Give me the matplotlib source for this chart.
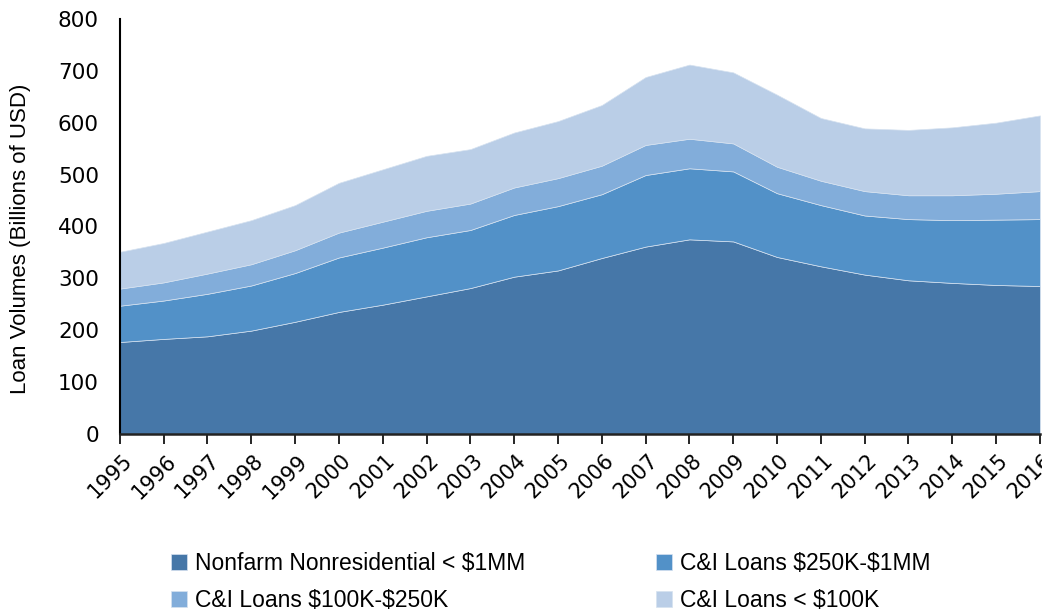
import matplotlib.pyplot as plt
import matplotlib.transforms as mtransforms

years = list(range(1995, 2017))

# loan volumes by size band, billions of USD
nonfarm = [177, 183, 188, 199, 216, 235, 249, 265, 281, 303, 315,
           339, 361, 375, 371, 341, 323, 307, 296, 291, 287, 285]
ci_250k_1mm = [70, 74, 82, 87, 94, 105, 110, 114, 112, 119, 124,
               123, 138, 137, 135, 123, 118, 114, 118, 121, 126, 129]
ci_100k_250k = [33, 35, 39, 41, 44, 48, 50, 51, 51, 53, 54,
                55, 58, 57, 54, 51, 47, 47, 46, 48, 50, 54]
ci_under_100k = [71, 76, 81, 85, 87, 96, 101, 106, 105, 106, 110,
                 117, 131, 143, 137, 139, 121, 121, 126, 131, 137, 146]

labels = ["Nonfarm Nonresidential < \\$1MM", "C&I Loans \\$250K-\\$1MM",
          "C&I Loans \\$100K-\\$250K", "C&I Loans < \\$100K"]
colors = ["#4677a8", "#5291c8", "#82adda", "#bacee7"]

plt.rcParams['font.family'] = ['DejaVu Sans']

fig = plt.figure(figsize=(10.42, 6.11), dpi=100)
ax = fig.add_axes([0.115, 0.29, 0.883, 0.679])

ax.stackplot(years, nonfarm, ci_250k_1mm, ci_100k_250k, ci_under_100k,
             labels=labels, colors=colors, edgecolor="#d6e2f0", linewidth=0.5)

ax.set_xlim(1995, 2016)
ax.set_ylim(0, 800)
ax.set_yticks(range(0, 801, 100))
ax.set_xticks(years)
ax.set_xticklabels([str(y) for y in years], rotation=45, ha="right",
                   rotation_mode="anchor", fontsize=15)
ax.tick_params(axis="y", length=0, labelsize=15.5, pad=15)
ax.tick_params(axis="x", length=7, width=1.2, direction="out", pad=5)

# nudge year labels a touch to the right, like the original
shift = mtransforms.ScaledTranslation(2 / 100, 0, fig.dpi_scale_trans)
for lab in ax.get_xticklabels():
    lab.set_transform(lab.get_transform() + shift)

ax.set_ylabel("Loan Volumes (Billions of USD)", fontsize=16,
              family=['Liberation Sans'])
ax.yaxis.set_label_coords(-0.097, 0.47)

for s in ["top", "right"]:
    ax.spines[s].set_visible(False)
ax.spines["left"].set_linewidth(1.5)
ax.spines["bottom"].set_linewidth(1.8)
ax.spines["bottom"].set_color("#222222")

handles, lbls = ax.get_legend_handles_labels()
# row order: first row holds nonfarm + 250K-1MM
order = [0, 2, 1, 3]
fig.legend([handles[i] for i in order], [lbls[i] for i in order],
           loc="lower left", bbox_to_anchor=(0.144, -0.035), ncol=2,
           frameon=False, handlelength=0.7, handleheight=0.7,
           handletextpad=0.35, columnspacing=5.7, labelspacing=0.6,
           prop={'family': ['Liberation Sans'], 'size': 16.5})

fig.savefig("out.png", dpi=100)
